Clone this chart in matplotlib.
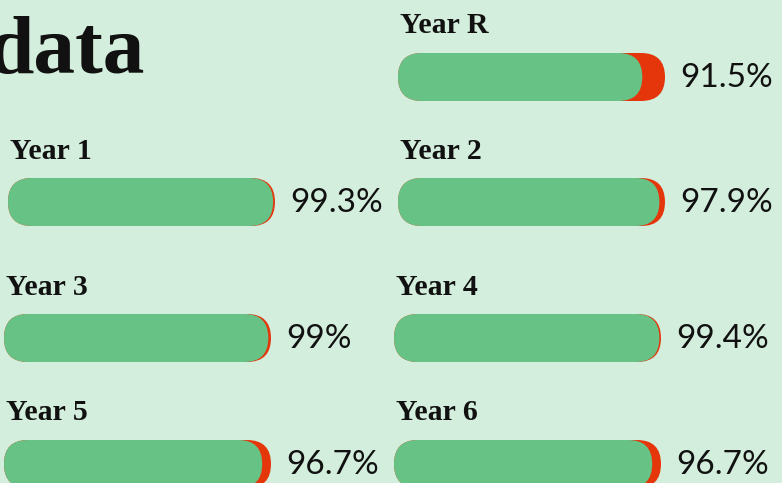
import matplotlib.pyplot as plt
from matplotlib.patches import FancyBboxPatch

# data
years = ["Year R", "Year 1", "Year 2", "Year 3", "Year 4", "Year 5", "Year 6"]
values = [91.5, 99.3, 97.9, 99.0, 99.4, 96.7, 96.7]
value_labels = ["91.5%", "99.3%", "97.9%", "99%", "99.4%", "96.7%", "96.7%"]

# layout (pixel units): bar left x, bar top y, label baseline y
bar_x = [398, 8, 398, 4, 394, 4, 394]
bar_y = [53, 178, 178, 314, 314, 440, 440]
label_y = [33, 159, 159, 295, 295, 420, 420]

W, H = 782, 483
FULL_W = 267
BAR_H = 48
BG = "#d3eedc"
GREEN = "#66c285"
RED = "#e5360b"

fig = plt.figure(figsize=(W / 100, H / 100), dpi=100, facecolor=BG)
ax = fig.add_axes([0, 0, 1, 1])
ax.set_xlim(0, W)
ax.set_ylim(H, 0)
ax.set_facecolor(BG)
ax.axis("off")

# title runs off the left edge, as in the original
ax.text(-12, 73, "data", fontsize=60, fontweight="bold",
        family="Liberation Serif", va="baseline", ha="left", color="#111111")


def pill(x, y, w, color, z):
    p = FancyBboxPatch((x, y), w, BAR_H,
                       boxstyle=f"round,pad=0,rounding_size={BAR_H / 2}",
                       facecolor=color, edgecolor="none", zorder=z)
    ax.add_patch(p)


for name, v, lab, bx, by, ly in zip(years, values, value_labels, bar_x, bar_y, label_y):
    ax.text(bx + 2, ly, name, fontsize=21.5, fontweight="bold",
            family="Liberation Serif", va="baseline", ha="left", color="#111111")
    pill(bx, by, FULL_W, RED, 2)
    pill(bx, by, FULL_W * v / 100, GREEN, 3)
    ax.text(bx + FULL_W + 15, by + BAR_H / 2 + 1, lab, fontsize=24,
            family="Lato", va="center", ha="left", color="#111111")

fig.savefig("out.png", dpi=100, facecolor=BG)
